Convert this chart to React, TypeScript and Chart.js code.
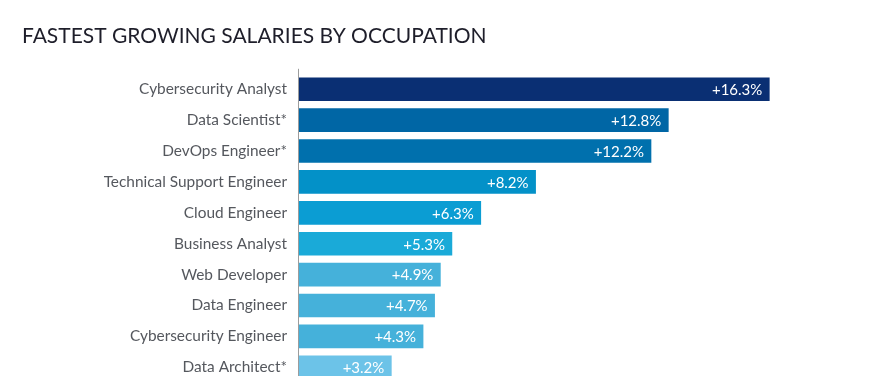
import React, { useEffect, useRef } from "react";
import { Chart, registerables } from "chart.js";

Chart.register(...registerables);

const titleText = "FASTEST GROWING SALARIES BY OCCUPATION";

const categories = [
  "Cybersecurity Analyst",
  "Data Scientist*",
  "DevOps Engineer*",
  "Technical Support Engineer",
  "Cloud Engineer",
  "Business Analyst",
  "Web Developer",
  "Data Engineer",
  "Cybersecurity Engineer",
  "Data Architect*",
];

const values = [16.3, 12.8, 12.2, 8.2, 6.3, 5.3, 4.9, 4.7, 4.3, 3.2];

const valueLabels = ["+16.3%", "+12.8%", "+12.2%", "+8.2%", "+6.3%", "+5.3%", "+4.9%", "+4.7%", "+4.3%", "+3.2%"];

const barColors = [
  "#0a2f73",
  "#0066a5",
  "#0070ad",
  "#0391c8",
  "#0b9dd3",
  "#1aaad8",
  "#45b1da",
  "#45b1da",
  "#45b1da",
  "#6cc3e8",
];

const valueLabelPlugin = {
  id: "valueLabels",
  afterDatasetsDraw(chart: any) {
    const ctx = chart.ctx;
    const meta = chart.getDatasetMeta(0);
    ctx.save();
    ctx.font = "15px Lato";
    ctx.fillStyle = "#ffffff";
    ctx.textAlign = "right";
    ctx.textBaseline = "middle";
    meta.data.forEach((bar: any, i: number) => {
      ctx.fillText(valueLabels[i], bar.x - 7, bar.y + 1);
    });
    ctx.restore();
  },
};

const axisLinePlugin = {
  id: "axisLine",
  afterDatasetsDraw(chart: any) {
    const { ctx, chartArea } = chart;
    ctx.save();
    ctx.strokeStyle = "#9c9c9c";
    ctx.lineWidth = 1;
    ctx.beginPath();
    ctx.moveTo(Math.round(chartArea.left) - 0.5, chartArea.top - 5);
    ctx.lineTo(Math.round(chartArea.left) - 0.5, chartArea.bottom);
    ctx.stroke();
    ctx.restore();
  },
};

export default function App() {
  const canvasRef = useRef<HTMLCanvasElement | null>(null);

  useEffect(() => {
    if (!canvasRef.current) return;
    const chart = new Chart(canvasRef.current, {
      type: "bar",
      data: {
        labels: categories,
        datasets: [
          {
            data: values,
            backgroundColor: barColors,
            borderWidth: 0,
            barThickness: 23,
          },
        ],
      },
      options: {
        indexAxis: "y",
        responsive: true,
        maintainAspectRatio: false,
        animation: false,
        devicePixelRatio: 1,
        layout: { padding: { left: 22, right: 27.8, top: 23.5, bottom: 4 } },
        plugins: {
          legend: { display: false },
          tooltip: { enabled: false },
          title: {
            display: true,
            text: titleText,
            align: "start",
            color: "#1e1e2a",
            font: { family: "Lato", size: 21, weight: "normal" },
            padding: { top: 0, bottom: 25.1 },
          },
        },
        scales: {
          x: {
            display: false,
            min: 0,
            max: 19,
          },
          y: {
            afterFit(scale: any) {
              scale.width = 277;
            },
            grid: { display: false, drawTicks: false },
            border: { display: false },
            ticks: {
              padding: 12,
              color: "#55585e",
              font: { family: "Lato", size: 15.4 },
            },
          },
        },
      },
      plugins: [valueLabelPlugin, axisLinePlugin],
    });
    return () => chart.destroy();
  }, []);

  return (
    <div
      style={{
        position: "fixed",
        left: 0,
        top: 0,
        width: 875,
        height: 376,
        overflow: "hidden",
        background: "#ffffff",
      }}
    >
      <div style={{ position: "relative", width: 875, height: 404 }}>
        <canvas ref={canvasRef} />
      </div>
    </div>
  );
}
